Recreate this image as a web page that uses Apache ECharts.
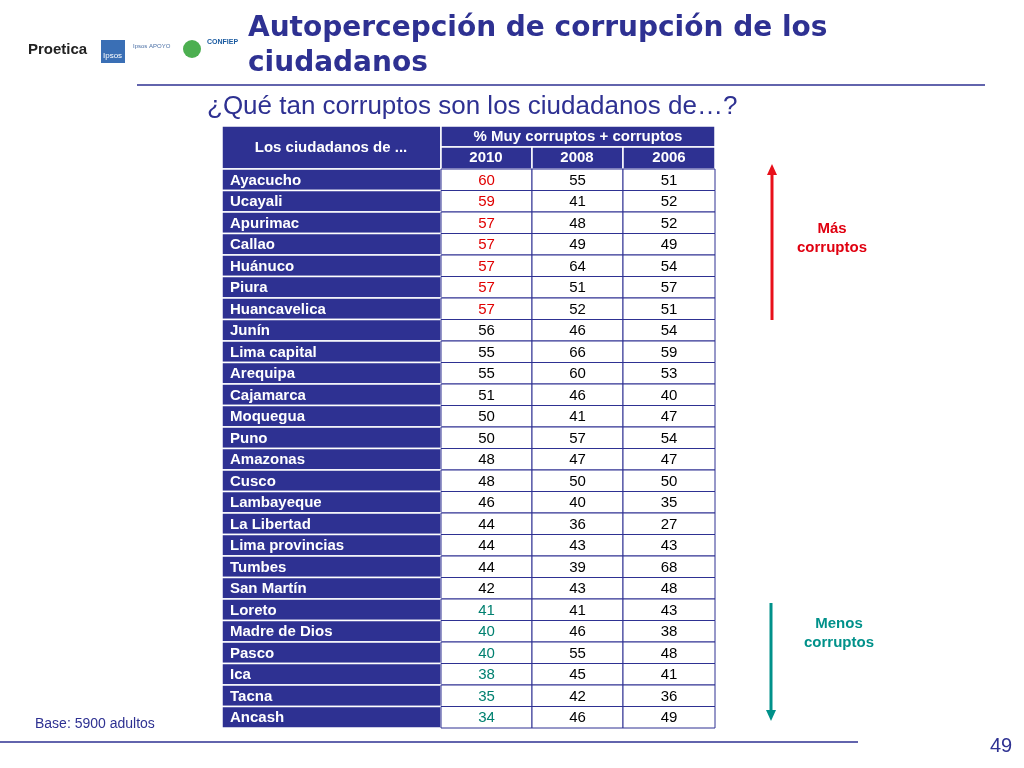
<!DOCTYPE html>
<html><head><meta charset="utf-8">
<script src="https://cdn.jsdelivr.net/npm/echarts@6/dist/echarts.min.js"></script>
<style>html,body{margin:0;padding:0;background:#fff}#c{width:1024px;height:768px}</style>
</head><body><div id="c"></div>
<script>
const regions=["Ayacucho","Ucayali","Apurimac","Callao","Huánuco","Piura","Huancavelica","Junín","Lima capital","Arequipa","Cajamarca","Moquegua","Puno","Amazonas","Cusco","Lambayeque","La Libertad","Lima provincias","Tumbes","San Martín","Loreto","Madre de Dios","Pasco","Ica","Tacna","Ancash"];
const years=["2010","2008","2006"];
const v2010=[60,59,57,57,57,57,57,56,55,55,51,50,50,48,48,46,44,44,44,42,41,40,40,38,35,34];
const v2008=[55,41,48,49,64,51,52,46,66,60,46,41,57,47,50,40,36,43,39,43,41,46,55,45,42,46];
const v2006=[51,52,52,49,54,57,51,54,59,53,40,47,54,47,50,35,27,43,68,48,43,38,48,41,36,49];

const NAVY='#2e3192';
const bounds=[0,219,310,401,493];
const cells=[];
regions.forEach((r,i)=>{
  cells.push([0,i,r]);
  cells.push([1,i,v2010[i]]);
  cells.push([2,i,v2008[i]]);
  cells.push([3,i,v2006[i]]);
});
function valColor(col,row){
  if(col!==1) return '#000';
  if(row<=6) return '#e00000';
  if(row>=20) return '#008070';
  return '#000';
}
const chart=echarts.init(document.getElementById('c'));
chart.setOption({
  animation:false,
  grid:{left:222,top:169,width:493,height:559},
  xAxis:{type:'value',min:0,max:493,show:false},
  yAxis:{type:'category',data:regions,inverse:true,show:false},
  series:[{
    type:'custom',
    data:cells,
    renderItem:function(params,api){
      const col=api.value(0),row=api.value(1);
      const p0=api.coord([bounds[col],row]);
      const p1=api.coord([bounds[col+1],row]);
      const h=api.size([0,1])[1];
      const x=p0[0],y=p0[1]-h/2,w=p1[0]-p0[0];
      const txt=cells[params.dataIndex][2];
      if(col===0){
        return {type:'group',children:[
          {type:'rect',shape:{x:x,y:y,width:w,height:h},style:{fill:NAVY,stroke:'#fff',lineWidth:1.5}},
          {type:'text',style:{x:x+8,y:y+h/2+1,text:String(txt),fill:'#fff',font:'bold 15px "Liberation Sans", Arial',verticalAlign:'middle'}}
        ]};
      }
      return {type:'group',children:[
        {type:'rect',shape:{x:x,y:y,width:w,height:h},style:{fill:'#fff',stroke:NAVY,lineWidth:1}},
        {type:'text',style:{x:x+w/2,y:y+h/2+1,text:String(txt),fill:valColor(col,row),font:'15px "Liberation Sans", Arial',align:'center',verticalAlign:'middle'}}
      ]};
    }
  }],
  graphic:[
    {type:'text',left:248,top:11,style:{text:'Autopercepción de corrupción de los\nciudadanos',fill:NAVY,font:'900 28px "DejaVu Sans", Arial',lineHeight:35}},
    {type:'line',shape:{x1:137,y1:85,x2:985,y2:85},style:{stroke:NAVY,lineWidth:1.5}},
    {type:'text',left:207,top:94,style:{text:'¿Qué tan corruptos son los ciudadanos de…?',fill:NAVY,font:'26px "Liberation Sans", Arial'}},
    {type:'rect',shape:{x:222,y:126,width:219,height:43},style:{fill:NAVY,stroke:'#fff',lineWidth:1.5}},
    {type:'text',x:331,y:148,style:{text:'Los ciudadanos de ...',fill:'#fff',font:'bold 15px "Liberation Sans", Arial',align:'center',verticalAlign:'middle'}},
    {type:'rect',shape:{x:441,y:126,width:274,height:21},style:{fill:NAVY,stroke:'#fff',lineWidth:1.5}},
    {type:'text',x:578,y:137,style:{text:'% Muy corruptos + corruptos',fill:'#fff',font:'bold 15px "Liberation Sans", Arial',align:'center',verticalAlign:'middle'}},
    {type:'rect',shape:{x:441,y:147,width:91,height:22},style:{fill:NAVY,stroke:'#fff',lineWidth:1.5}},
    {type:'rect',shape:{x:532,y:147,width:91,height:22},style:{fill:NAVY,stroke:'#fff',lineWidth:1.5}},
    {type:'rect',shape:{x:623,y:147,width:92,height:22},style:{fill:NAVY,stroke:'#fff',lineWidth:1.5}},
    {type:'text',x:486,y:158,style:{text:years[0],fill:'#fff',font:'bold 15px "Liberation Sans", Arial',align:'center',verticalAlign:'middle'}},
    {type:'text',x:577,y:158,style:{text:years[1],fill:'#fff',font:'bold 15px "Liberation Sans", Arial',align:'center',verticalAlign:'middle'}},
    {type:'text',x:669,y:158,style:{text:years[2],fill:'#fff',font:'bold 15px "Liberation Sans", Arial',align:'center',verticalAlign:'middle'}},
    {type:'line',shape:{x1:772,y1:320,x2:772,y2:172},style:{stroke:'#e8101a',lineWidth:3}},
    {type:'polygon',shape:{points:[[767,175],[777,175],[772,164]]},style:{fill:'#e8101a'}},
    {type:'text',x:832,y:238,style:{text:'Más\ncorruptos',fill:'#e00010',font:'bold 15px "Liberation Sans", Arial',align:'center',verticalAlign:'middle',lineHeight:19}},
    {type:'line',shape:{x1:771,y1:603,x2:771,y2:712},style:{stroke:'#00918a',lineWidth:3}},
    {type:'polygon',shape:{points:[[766,710],[776,710],[771,721]]},style:{fill:'#00918a'}},
    {type:'text',x:839,y:633,style:{text:'Menos\ncorruptos',fill:'#00918a',font:'bold 15px "Liberation Sans", Arial',align:'center',verticalAlign:'middle',lineHeight:19}},
    {type:'text',left:35,top:717,style:{text:'Base: 5900 adultos',fill:NAVY,font:'14px "Liberation Sans", Arial'}},
    {type:'line',shape:{x1:0,y1:742,x2:858,y2:742},style:{stroke:NAVY,lineWidth:1.5}},
    {type:'text',left:990,top:736,style:{text:'49',fill:NAVY,font:'20px "Liberation Sans", Arial'}},
    {type:'text',left:28,top:42,style:{text:'Proetica',fill:'#222',font:'bold 15px "Liberation Sans", Arial'}},
    {type:'rect',shape:{x:101,y:40,width:24,height:23},style:{fill:'#3a6fb5'}},
    {type:'text',left:103,top:52,style:{text:'Ipsos',fill:'#fff',font:'8px "Liberation Sans", Arial'}},
    {type:'text',left:133,top:43,style:{text:'Ipsos APOYO',fill:'#4a6fa5',font:'6px "Liberation Sans", Arial'}},
    {type:'circle',shape:{cx:192,cy:49,r:9},style:{fill:'#4caf50'}},
    {type:'text',left:207,top:39,style:{text:'CONFIEP',fill:'#1a5aa0',font:'bold 7px "Liberation Sans", Arial'}}
  ]
});
</script></body></html>
